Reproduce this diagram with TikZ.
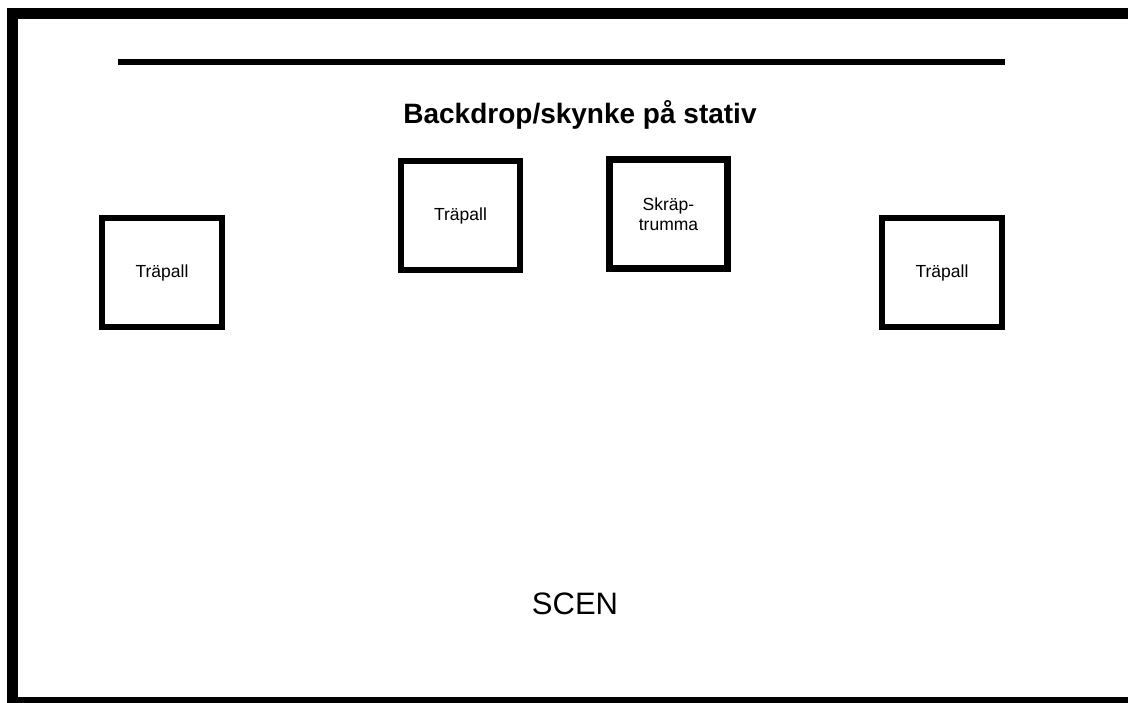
\documentclass[tikz,border=0pt]{standalone}
\usepackage{fontspec}
\setmainfont{Liberation Sans}
\usepackage{tikz}

\tikzset{
  pall/.style={draw, line width=6pt, minimum width=120pt, minimum height=109pt,
    inner sep=0pt, font=\fontsize{17.5}{20}\selectfont},
  trumma/.style={pall, line width=7pt, minimum width=118pt, align=center},
}

\begin{document}
\begin{tikzpicture}[x=1pt, y=-1pt]
                \useasboundingbox (0, 0) rectangle (1128, 702);
                \clip (0, 0) rectangle (1128, 702);

                % ram runt scenen
                \draw[line width=11pt, miter limit=10] (1140, 13.5) -- (12.5, 13.5) -- (12.5, 702.5) -- (1140, 702.5);

                % backdrop
                \draw[line width=5.5pt] (118, 62) -- (1005, 62);
                \node[font=\bfseries\fontsize{28}{32}\selectfont] (titel) at (580, 115) {Backdrop/skynke på stativ};

                \node[pall] (lpall) at (162, 272.5) {Träpall};
                \node[pall, minimum width=119pt] (mpall) at (460.5, 215.5) {Träpall};
                \node[trumma] (trumma) at (668.5, 214) {Skräp-\\trumma};
                \node[pall] (rpall) at (942, 272.5) {Träpall};

                \node[font=\fontsize{31}{36}\selectfont] (scen) at (575, 604) {SCEN};
\end{tikzpicture}
\end{document}
